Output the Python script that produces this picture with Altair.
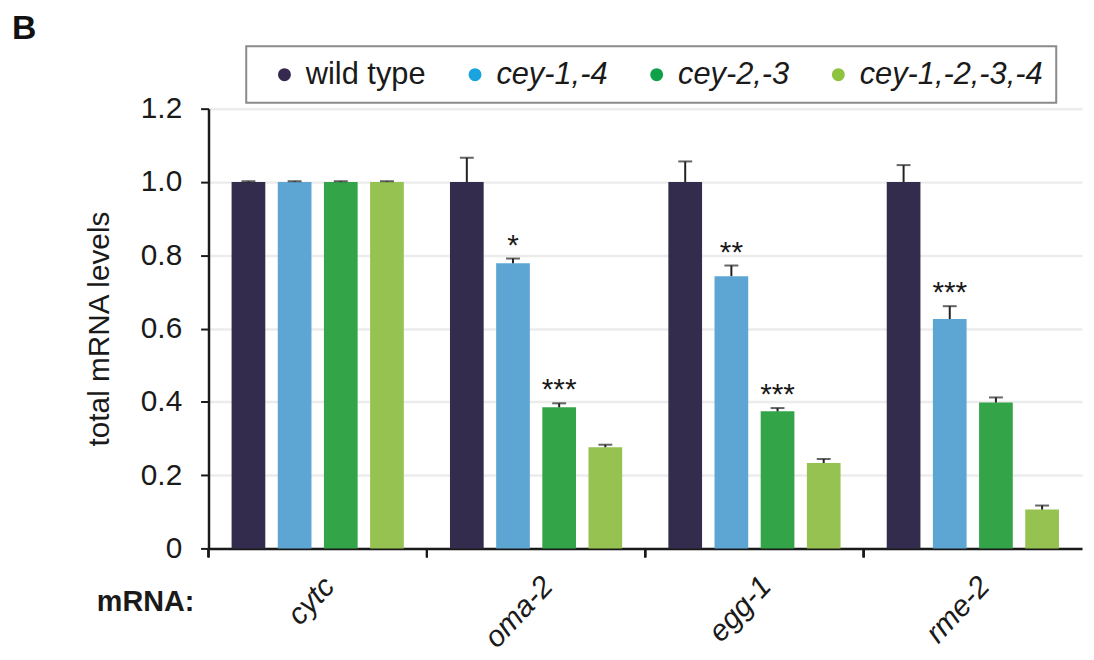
import altair as alt
import pandas as pd

genes = ["cytc", "oma-2", "egg-1", "rme-2"]
genotypes = ["wild type", "cey-1,-4", "cey-2,-3", "cey-1,-2,-3,-4"]

# mean values per genotype, in gene order
val_wt = [1.0, 1.0, 1.0, 1.0]
val_c14 = [1.0, 0.778, 0.743, 0.626]
val_c23 = [1.0, 0.385, 0.374, 0.398]
val_c1234 = [1.0, 0.276, 0.233, 0.106]

err_wt = [0.002, 0.066, 0.056, 0.046]
err_c14 = [0.002, 0.013, 0.029, 0.035]
err_c23 = [0.002, 0.011, 0.009, 0.014]
err_c1234 = [0.002, 0.007, 0.011, 0.011]

star_wt = ["", "", "", ""]
star_c14 = ["", "*", "**", "***"]
star_c23 = ["", "***", "***", ""]
star_c1234 = ["", "", "", ""]

bar_colors = ["#332c4c", "#5da6d4", "#33a447", "#95c250"]
dot_colors = ["#35294f", "#1aa3de", "#0fa14a", "#8dc33f"]

rows = []
for g_i, (vals, errs, stars) in enumerate(
    [(val_wt, err_wt, star_wt), (val_c14, err_c14, star_c14),
     (val_c23, err_c23, star_c23), (val_c1234, err_c1234, star_c1234)]):
    for k, gene in enumerate(genes):
        rows.append({"gene": gene, "genotype": genotypes[g_i], "strain": genotypes[g_i],
                     "value": vals[k], "top": vals[k] + errs[k], "star": stars[k]})
df = pd.DataFrame(rows)

FONT = "Liberation Sans"
H = 443
FS = 30

xenc = alt.X("gene:N", sort=genes,
             scale=alt.Scale(paddingInner=0, paddingOuter=0),
             axis=alt.Axis(title="mRNA:", labelAngle=-47, labelFontStyle="italic",
                           labelFontSize=FS, labelColor="#1a1a1a", labelPadding=33,
                           labelOffset=12, ticks=False, domainWidth=2.5, domainColor="#1a1a1a",
                           titleFontSize=29, titleFontWeight="bold", titleColor="#1a1a1a",
                           titleX=-113, titleY=54, titleAlign="left", titleBaseline="middle",
                           titleAngle=0, grid=False))
xoff = alt.XOffset("genotype:N", sort=genotypes,
                   scale=alt.Scale(paddingInner=0.27, paddingOuter=0.5))

legend = alt.Legend(
    orient="none", legendX=38, legendY=-63, direction="horizontal", columns=4,
    title=None, labelLimit=400,
    labelFontSize=31, labelColor="#1a1a1a", symbolType="circle",
    symbolSize=170, symbolOffset=10, labelOffset=6, columnPadding=24, padding=13,
    strokeColor="#8a8a8a", symbolStrokeWidth=0, symbolOpacity=1,
    labelFontStyle=alt.ExprRef("datum.value == 'wild type' ? 'normal' : 'italic'"),
)

yaxis = alt.Axis(values=[0, 0.2, 0.4, 0.6, 0.8, 1.0, 1.2],
                 labelExpr="datum.value == 0 ? '0' : format(datum.value, '.1f')",
                 grid=True, gridColor="#ececec", gridWidth=2.5,
                 tickSize=8, tickWidth=2, tickColor="#1a1a1a",
                 domainWidth=2.5, domainColor="#1a1a1a",
                 labelFontSize=FS, labelColor="#1a1a1a", labelPadding=19,
                 title="total mRNA levels", titleFontSize=FS, titleFontWeight="normal",
                 titleColor="#1a1a1a", titlePadding=26)
yscale = alt.Scale(domain=[0, 1.2], nice=False, zero=True)

base = alt.Chart(df)

bars = base.mark_bar().encode(
    x=xenc, xOffset=xoff,
    y=alt.Y("value:Q", scale=yscale, axis=yaxis),
    color=alt.Color("genotype:N", sort=genotypes,
                    scale=alt.Scale(domain=genotypes, range=bar_colors), legend=None),
)

# invisible layer that only carries the legend (dots are brighter than bars)
legend_layer = base.mark_circle(opacity=0).encode(
    x=alt.X("gene:N", sort=genes), xOffset=xoff, y="value:Q",
    color=alt.Color("strain:N", sort=genotypes,
                    scale=alt.Scale(domain=genotypes, range=dot_colors), legend=legend),
)

err = base.mark_rule(color="#222222", strokeWidth=2).encode(
    x=alt.X("gene:N", sort=genes), xOffset=xoff,
    y="value:Q", y2="top:Q")

caps = base.mark_tick(color="#222222", thickness=2, size=14, orient="horizontal").encode(
    x=alt.X("gene:N", sort=genes), xOffset=xoff, y="top:Q")

stars = base.mark_text(fontSize=FS, dy=-4, baseline="alphabetic", color="#1a1a1a",
                       font=FONT).encode(
    x=alt.X("gene:N", sort=genes), xOffset=xoff, y="top:Q", text="star:N")

gticks = base.mark_rule(color="#1a1a1a", strokeWidth=2).encode(
    x=alt.X("gene:N", sort=genes, bandPosition=0),
    y=alt.value(H), y2=alt.value(H + 9))

chart = alt.layer(bars, legend_layer, err, caps, stars, gticks).resolve_scale(
    color="independent").resolve_legend(color="independent").properties(
    width=880, height=H,
    title=alt.TitleParams("B", anchor="start", frame="group", fontSize=34,
                          fontWeight="bold", dx=-198, dy=8, offset=7, color="#111111", font=FONT),
    autosize=alt.AutoSizeParams(type="none"),
    padding={"left": 202, "top": 99, "right": 4, "bottom": 110},
).configure(font=FONT).configure_view(stroke=None).configure_axis(
    labelFont=FONT, titleFont=FONT).configure_legend(strokeWidth=2, labelFont=FONT)

chart.save("out.html", embed_options={"renderer": "svg", "actions": False})
